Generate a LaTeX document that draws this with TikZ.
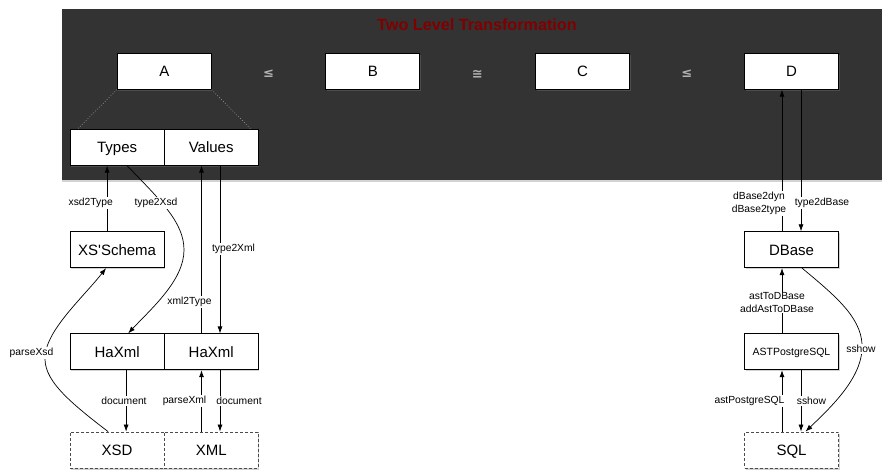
\documentclass[tikz,border=0pt]{standalone}
\usepackage{fontspec}
\setmainfont{Liberation Sans}
\newfontfamily\symfont{DejaVu Sans}
\usetikzlibrary{arrows.meta,shadows,calc}
\definecolor{panelgray}{RGB}{51,51,51}
\definecolor{titlered}{RGB}{128,0,0}
\begin{document}
\begin{tikzpicture}[x=1pt,y=-1pt,
  shad/.style={drop shadow={shadow xshift=1pt,shadow yshift=-1.5pt,opacity=0.35}},
  box/.style={draw=black,fill=white,minimum width=94pt,minimum height=36pt,inner sep=0pt,text height=10.8pt,text depth=0pt,line width=0.8pt,font=\fontsize{15}{17}\selectfont,shad},
  dbox/.style={box,draw=black!70,dash pattern=on 3pt off 2pt},
  lbl/.style={fill=white,inner sep=1pt,font=\fontsize{10.3}{12.6}\selectfont,align=center},
  arr/.style={-{Latex[length=7pt,width=5pt]},line width=0.7pt},
  rel/.style={text=black!30,font=\symfont\bfseries\fontsize{13}{15}\selectfont}
]
\useasboundingbox (0,0) rectangle (882,470);
\clip (0,0) rectangle (882,470);
% panel
\fill[panelgray,drop shadow={shadow xshift=0pt,shadow yshift=-2.5pt,opacity=0.35}] (62,9.3) rectangle (900,180);
\node[font=\bfseries\fontsize{16.2}{18}\selectfont,text=titlered] (title) at (477,24.5) {Two Level Transformation};
% top row
\node[box] (A) at (164.3,71.3) {A};
\node[box] (B) at (372.8,71.3) {B};
\node[box] (C) at (582.5,71.3) {C};
\node[box] (D) at (791.5,71.3) {D};
\node[rel] (r1) at (268.5,74) {≤};
\node[rel] (r2) at (477.3,74) {≅};
\node[rel] (r3) at (686.7,74) {≤};
% left column
\node[box] (types) at (117.1,147.2) {Types};
\node[box] (values) at (211.2,147.2) {Values};
\draw[dotted,black!40,line width=0.7pt] (A.south west) -- ([xshift=8pt]types.north west);
\draw[dotted,black!40,line width=0.7pt] (A.south east) -- ([xshift=-8pt]values.north east);
\node[box] (xss) at (117.1,249.7) {XS\textquotesingle Schema};
\node[box] (hax1) at (117.1,351.8) {HaXml};
\node[box] (hax2) at (211.2,351.8) {HaXml};
\node[dbox] (xsd) at (117.1,450) {XSD};
\node[dbox] (xml) at (211.2,450) {XML};
% right column
\node[box] (dbase) at (791.5,249.7) {DBase};
\node[box,font=\fontsize{10.5}{12}\selectfont,text height=7.6pt,text depth=0pt] (ast) at (791.5,351.8) {ASTPostgreSQL};
\node[dbox] (sql) at (791.5,450) {SQL};
% left connectors
\draw[arr] ([xshift=-10pt]xss.north) -- ([xshift=-10pt]types.south);
\draw[arr] ([xshift=10pt]types.south) .. controls (160,200) and (184,222) .. (184,250) .. controls (184,280) and (152,308) .. ([xshift=11pt]hax1.north);
\draw[arr] ([xshift=-9.7pt]hax2.north) -- ([xshift=-9.7pt]values.south);
\draw[arr] ([xshift=8.8pt]values.south) -- ([xshift=8.8pt]hax2.north);
\draw[arr] ([xshift=9pt]hax1.south) -- ([xshift=9pt]xsd.north);
\draw[arr] ([xshift=-9.7pt]xml.north) -- ([xshift=-9.7pt]hax2.south);
\draw[arr] ([xshift=8.8pt]hax2.south) -- ([xshift=8.8pt]xml.north);
\draw[arr] ([xshift=-9pt]xsd.north) .. controls (60,395) and (40,375) .. (46,350) .. controls (52,325) and (85,295) .. ([xshift=-11pt]xss.south);
% right connectors
\draw[arr] ([xshift=-9.5pt]dbase.north) -- ([xshift=-9.5pt]D.south);
\draw[arr] ([xshift=9.5pt]D.south) -- ([xshift=9.5pt]dbase.north);
\draw[arr] ([xshift=-9.5pt]ast.north) -- ([xshift=-9.5pt]dbase.south);
\draw[arr] ([xshift=-9.5pt]sql.north) -- ([xshift=-9.5pt]ast.south);
\draw[arr] ([xshift=9.5pt]ast.south) -- ([xshift=9.5pt]sql.north);
\draw[arr] ([xshift=10.5pt]dbase.south) .. controls (838,298) and (864,320) .. (862,350) .. controls (860,380) and (830,408) .. ([xshift=14pt]sql.north);
% labels
\node[lbl] (l1) at (90.7,203) {xsd2Type};
\node[lbl] (l2) at (156,203) {type2Xsd};
\node[lbl] (l3) at (233.5,249) {type2Xml};
\node[lbl] (l4) at (189.5,302) {xml2Type};
\node[lbl] (l5) at (124,401) {document};
\node[lbl] (l6) at (184.5,401) {parseXml};
\node[lbl] (l7) at (239,401) {document};
\node[lbl] (l8) at (31.5,353) {parseXsd};
\node[lbl] (l9) at (759,203.5) {dBase2dyn\\dBase2type};
\node[lbl] (l10) at (822,203) {type2dBase};
\node[lbl] (l11) at (777,302.5) {astToDBase\\addAstToDBase};
\node[lbl] (l12) at (749.5,401) {astPostgreSQL};
\node[lbl] (l13) at (811.5,401) {sshow};
\node[lbl] (l14) at (861,349) {sshow};
\end{tikzpicture}
\end{document}
